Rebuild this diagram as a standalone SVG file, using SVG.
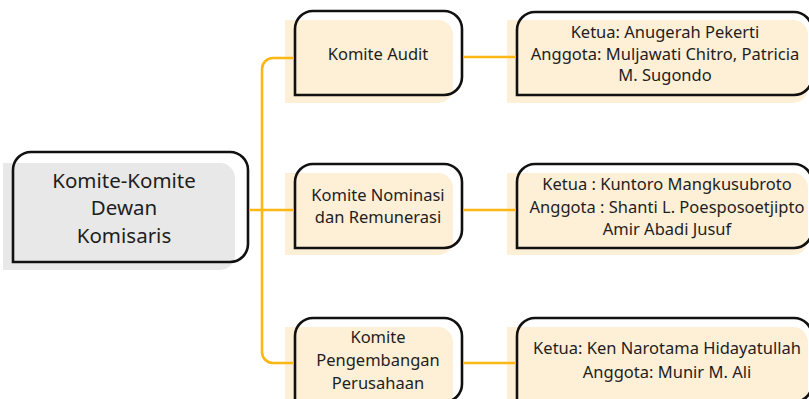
<svg xmlns="http://www.w3.org/2000/svg" width="809" height="399" viewBox="0 0 809 399">
<style>
.bg{fill:#ffffff}
.fill{fill:#FEEFD7}
.fillg{fill:#E8E8E8}
.ol{fill:none;stroke:#111111;stroke-width:2.6}
.t{font-family:"Noto Sans","Open Sans",sans-serif;font-size:16.5px;fill:#1e1e1e;text-anchor:middle}
.tr{font-family:"Noto Sans","Open Sans",sans-serif;font-size:20.5px;fill:#1e1e1e;text-anchor:middle}
.c{fill:none;stroke:#FBB714;stroke-width:2.6;stroke-linecap:butt}
</style>
<rect class="bg" x="0" y="0" width="809" height="399"/>
<g id="root">
<path class="fillg" d="M3,163 H220 A15,15 0 0 1 235,178 V255 A15,15 0 0 1 220,270 H3 Z"/>
<path class="ol" d="M31,152 H230 A18,18 0 0 1 248,170 V244 A18,18 0 0 1 230,262 H13 V170 A18,18 0 0 1 31,152 Z"/>
<text class="tr" x="124" y="188">Komite-Komite</text>
<text class="tr" x="124" y="215">Dewan</text>
<text class="tr" x="124" y="243">Komisaris</text>
</g>
<g id="audit">
<path class="fill" d="M285,20 H438 A15,15 0 0 1 453,35 V88 A15,15 0 0 1 438,103 H285 Z"/>
<path class="ol" d="M313,11 H444 A18,18 0 0 1 462,29 V77 A18,18 0 0 1 444,95 H295 V29 A18,18 0 0 1 313,11 Z"/>
<text class="t" x="378" y="60">Komite Audit</text>
</g>
<g id="audit-members">
<path class="fill" d="M507,20 H793 A15,15 0 0 1 808,35 V88 A15,15 0 0 1 793,103 H507 Z"/>
<path class="ol" d="M535,12 H794 A18,18 0 0 1 812,30 V77 A18,18 0 0 1 794,95 H517 V30 A18,18 0 0 1 535,12 Z"/>
<text class="t" x="665" y="38">Ketua: Anugerah Pekerti</text>
<text class="t" x="665" y="59.5">Anggota: Muljawati Chitro, Patricia</text>
<text class="t" x="665" y="81">M. Sugondo</text>
</g>
<g id="nominasi">
<path class="fill" d="M285,173 H438 A15,15 0 0 1 453,188 V240 A15,15 0 0 1 438,255 H285 Z"/>
<path class="ol" d="M313,164 H444 A18,18 0 0 1 462,182 V230 A18,18 0 0 1 444,248 H295 V182 A18,18 0 0 1 313,164 Z"/>
<text class="t" x="378" y="201">Komite Nominasi</text>
<text class="t" x="378" y="223">dan Remunerasi</text>
</g>
<g id="nominasi-members">
<path class="fill" d="M507,173 H793 A15,15 0 0 1 808,188 V240 A15,15 0 0 1 793,255 H507 Z"/>
<path class="ol" d="M535,164 H794 A18,18 0 0 1 812,182 V230 A18,18 0 0 1 794,248 H517 V182 A18,18 0 0 1 535,164 Z"/>
<text class="t" x="667" y="190">Ketua : Kuntoro Mangkusubroto</text>
<text class="t" x="667" y="213">Anggota : Shanti L. Poesposoetjipto</text>
<text class="t" x="667" y="235">Amir Abadi Jusuf</text>
</g>
<g id="pengembangan">
<path class="fill" d="M285,327 H438 A15,15 0 0 1 453,342 V395 A15,15 0 0 1 438,410 H285 Z"/>
<path class="ol" d="M313,318 H444 A18,18 0 0 1 462,336 V384 A18,18 0 0 1 444,402 H295 V336 A18,18 0 0 1 313,318 Z"/>
<text class="t" x="378" y="343">Komite</text>
<text class="t" x="378" y="366">Pengembangan</text>
<text class="t" x="378" y="389">Perusahaan</text>
</g>
<g id="pengembangan-members">
<path class="fill" d="M507,327 H793 A15,15 0 0 1 808,342 V395 A15,15 0 0 1 793,410 H507 Z"/>
<path class="ol" d="M535,318 H794 A18,18 0 0 1 812,336 V384 A18,18 0 0 1 794,402 H517 V336 A18,18 0 0 1 535,318 Z"/>
<text class="t" x="667" y="354">Ketua: Ken Narotama Hidayatullah</text>
<text class="t" x="667" y="378">Anggota: Munir M. Ali</text>
</g>
<g id="connectors">
<path class="c" d="M249,210 H294"/>
<path class="c" d="M294,58 H273 A11,11 0 0 0 262,69 V352 A11,11 0 0 0 273,363 H294"/>
<path class="c" d="M463,57 H516"/>
<path class="c" d="M463,210 H516"/>
<path class="c" d="M463,363 H516"/>
</g>
</svg>
